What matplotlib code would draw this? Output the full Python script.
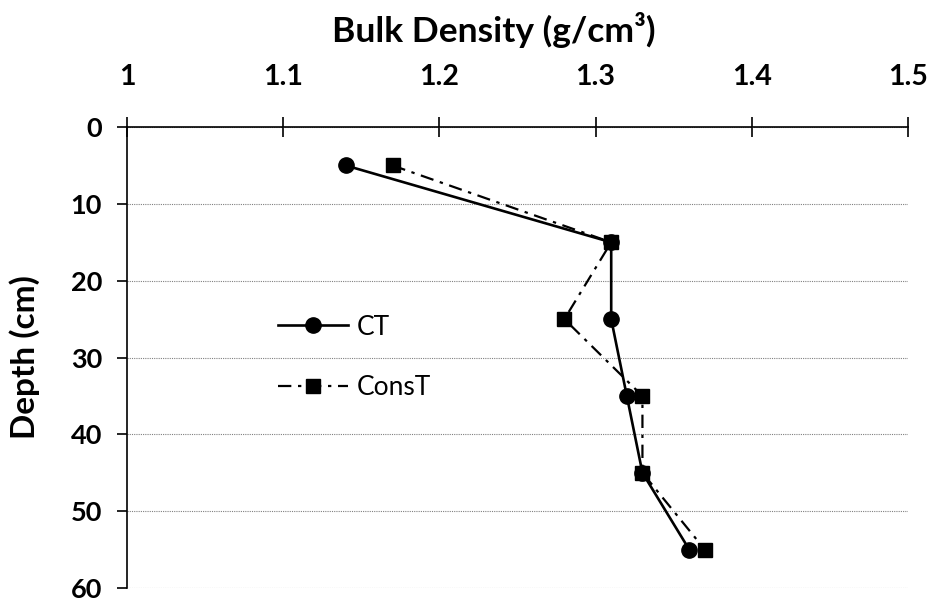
import matplotlib.pyplot as plt

# data
depth = [5, 15, 25, 35, 45, 55]
ct = [1.14, 1.31, 1.31, 1.32, 1.33, 1.36]
const = [1.17, 1.31, 1.28, 1.33, 1.33, 1.37]
xticks = [1, 1.1, 1.2, 1.3, 1.4, 1.5]
xtick_labels = ["1", "1.1", "1.2", "1.3", "1.4", "1.5"]
yticks = [0, 10, 20, 30, 40, 50, 60]

plt.rcParams['font.family'] = ['Lato', 'DejaVu Sans']

fig = plt.figure(figsize=(9.32, 6.05), dpi=100)
ax = fig.add_axes([0.1363, 0.028, 0.8379, 0.762])

ax.plot(const, depth, color='black', lw=1.6, ls=(0, (6, 3, 1.5, 3)),
        marker='s', ms=10, label='ConsT', zorder=3)
ax.plot(ct, depth, color='black', lw=1.9, marker='o', ms=11, label='CT', zorder=4)

ax.set_xlim(1, 1.5)
ax.set_ylim(60, 0)
ax.xaxis.tick_top()
ax.xaxis.set_label_position('top')
ax.set_xticks(xticks)
ax.set_xticklabels(xtick_labels)
ax.set_yticks(yticks)
ax.tick_params(axis='x', direction='inout', length=14, width=1.2, labelsize=20.5, pad=19.5)
ax.tick_params(axis='y', direction='out', length=7, width=1.2, labelsize=19.5, pad=11)
for lab in ax.get_xticklabels() + ax.get_yticklabels():
    lab.set_fontweight('bold')

ax.spines['right'].set_visible(False)
ax.spines['bottom'].set_visible(False)
ax.spines['top'].set_linewidth(1.2)
ax.spines['left'].set_linewidth(1.2)

ax.grid(axis='y', color='gray', ls=(0, (1, 1)), lw=0.8)
ax.set_axisbelow(True)

ax.set_xlabel("Bulk Density (g/cm³)", fontsize=25.5, fontweight='bold', labelpad=16)
ax.xaxis.label.set_x(0.469)
ax.set_ylabel("Depth (cm)", fontsize=24, fontweight='bold', labelpad=22)

h, l = ax.get_legend_handles_labels()
ax.legend(h[::-1], l[::-1], loc='center left', bbox_to_anchor=(0.193, 0.5),
          frameon=False, fontsize=19, handlelength=2.65, labelspacing=1.36,
          handletextpad=0.35, borderpad=0, borderaxespad=0)

plt.savefig('out.png', dpi=100)
